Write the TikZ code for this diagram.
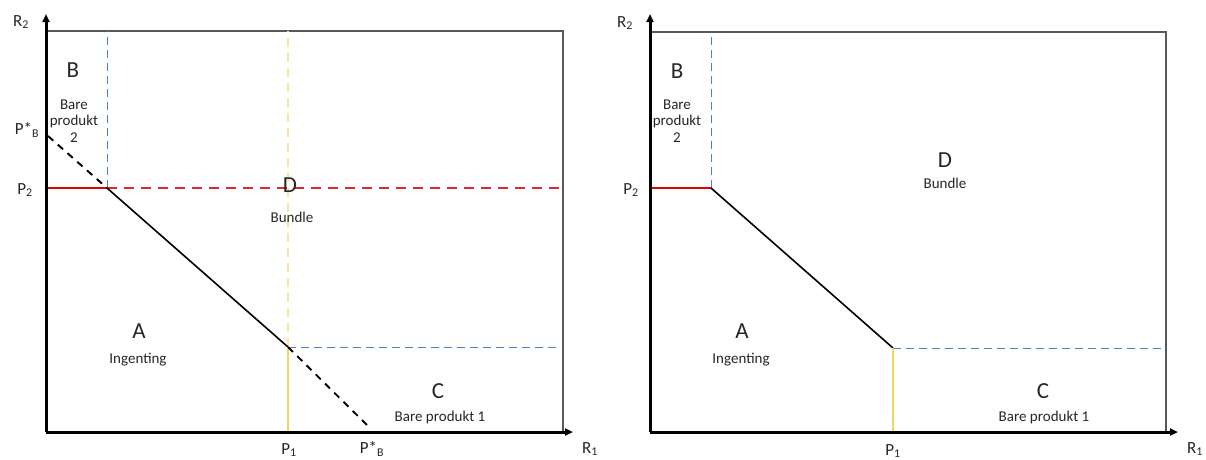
\documentclass[tikz,border=0pt]{standalone}
\usepackage{fontspec}
\setmainfont{Carlito}
\usetikzlibrary{arrows.meta, positioning}
\definecolor{cutblue}{RGB}{80,130,195}
\definecolor{gold}{RGB}{250,210,95}
\definecolor{paleyellow}{RGB}{250,228,160}
\definecolor{cutred}{RGB}{220,40,40}

\begin{document}
\begin{tikzpicture}[x=1pt, y=-1pt,
    >={Triangle[length=8pt, width=7pt]},
    axis/.style={line width=3pt, ->},
    frame/.style={line width=1.1pt, black!65},
    kink/.style={line width=1.6pt, black},
    ext/.style={line width=1.9pt, black, dash pattern=on 7pt off 6pt},
    redseg/.style={line width=2.8pt, red!90!black},
    redcut/.style={line width=1.1pt, cutred, dash pattern=on 10pt off 7pt},
    bluecut/.style={line width=1pt, cutblue, dash pattern=on 8pt off 5pt},
    yelseg/.style={line width=2.2pt, gold},
    yelcut/.style={line width=1.1pt, paleyellow, dash pattern=on 9pt off 6pt},
    big/.style={font=\fontsize{23}{26}\selectfont, text=black!85},
    small/.style={font=\fontsize{15}{17.5}\selectfont, align=center, text=black!85},
    lab/.style={font=\fontsize{17}{19}\selectfont, text=black!85},
]
\useasboundingbox (0,0) rectangle (1206,459);

% ================= Left panel =================
\coordinate (O) at (46,432);
\coordinate (Ytip) at (46,14);
\coordinate (Xtip) at (573,432);
\coordinate (TL) at (46,31);
\coordinate (TR) at (563,31);
\coordinate (BR) at (563,432);
\coordinate (K2) at (107,188);
\coordinate (K1) at (288,347);
\coordinate (PB2) at (48,136);
\coordinate (PB1) at (367,425);

% Frame
\draw[frame] (TL) -- (TR) -- (BR);

% Cut lines
\draw[bluecut] (K2) -- (K2 |- TL);
\draw[redcut] (K2) -- (TR |- K2);
\draw[yelcut] (K1) -- (K1 |- TL);
\draw[bluecut] (K1) -- (557,347);

% Boundary
\draw[redseg] (O |- K2) -- (K2);
\draw[kink] (K2) -- (K1);
\draw[yelseg] (K1) -- (K1 |- O);
\draw[ext] (PB2) -- (K2);
\draw[ext] (K1) -- (PB1);

% Axes
\draw[axis] (O) -- (Ytip);
\draw[axis] (O) -- (Xtip);

% Labels
\node[lab] (r2) at (21,22) {R\textsubscript{2}};
\node[lab] (r1) at (590,449) {R\textsubscript{1}};
\node[lab] (p2) at (25,190) {P\textsubscript{2}};
\node[lab] (p1) at (289,450) {P\textsubscript{1}};
\node[lab] (pbl) at (27,130) {P*\textsubscript{B}};
\node[lab] (pbb) at (372,449) {P*\textsubscript{B}};

\node[big] (B) at (73,70) {B};
\node[small] (Btext) at (74,121) {Bare\\[-1pt]produkt\\[-1pt]2};
\node[big] (D) at (290,185) {D};
\node[small] (Dtext) at (292,217) {Bundle};
\node[big] (A) at (139,331) {A};
\node[small] (Atext) at (138,360) {Ingenting};
\node[big] (C) at (438,391) {C};
\node[small] (Ctext) at (440,417) {Bare produkt 1};

% ================= Right panel =================
\begin{scope}[xshift=604]
\coordinate (Or) at (46,432);
\coordinate (Ytipr) at (46,14);
\coordinate (Xtipr) at (574,432);
\coordinate (TLr) at (46,32);
\coordinate (TRr) at (562,32);
\coordinate (BRr) at (562,432);
\coordinate (K2r) at (107,188);
\coordinate (K1r) at (289,348);

% Frame
\draw[frame] (TLr) -- (TRr) -- (BRr);

% Cut lines
\draw[bluecut] (K2r) -- (K2r |- TLr);
\draw[bluecut] (K1r) -- (561,348);

% Boundary
\draw[redseg] (Or |- K2r) -- (K2r);
\draw[kink] (K2r) -- (K1r);
\draw[yelseg] (K1r) -- (K1r |- Or);

% Axes
\draw[axis] (Or) -- (Ytipr);
\draw[axis] (Or) -- (Xtipr);

% Labels
\node[lab] (r2r) at (21,23) {R\textsubscript{2}};
\node[lab] (r1r) at (591,449) {R\textsubscript{1}};
\node[lab] (p2r) at (27,190) {P\textsubscript{2}};
\node[lab] (p1r) at (289,451) {P\textsubscript{1}};

\node[big] (Br) at (73,71) {B};
\node[small] (Brtext) at (73,121) {Bare\\[-1pt]produkt\\[-1pt]2};
\node[big] (Dr) at (341,160) {D};
\node[small] (Drtext) at (341,183) {Bundle};
\node[big] (Ar) at (138,331) {A};
\node[small] (Artext) at (137,360) {Ingenting};
\node[big] (Cr) at (439,391) {C};
\node[small] (Crtext) at (440,417) {Bare produkt 1};
\end{scope}

\end{tikzpicture}
\end{document}
